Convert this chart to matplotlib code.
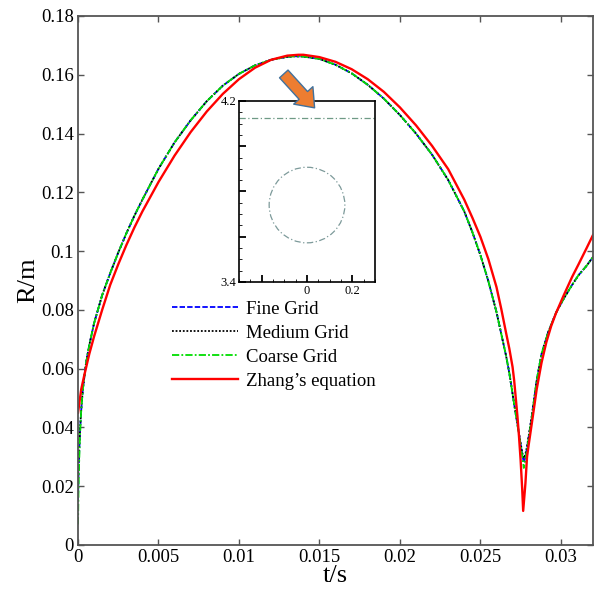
import numpy as np
import matplotlib
matplotlib.use('Agg')
import matplotlib.pyplot as plt
from matplotlib.patches import Circle, FancyArrowPatch
from matplotlib.ticker import FuncFormatter, MultipleLocator

plt.rcParams['font.family'] = ['Liberation Serif', 'DejaVu Serif']

# numerical bubble radius on three grids
t_num = [0, 0.00003, 0.00007, 0.00012, 0.0002, 0.0003, 0.0005, 0.0007,
         0.001, 0.0015, 0.002, 0.0025, 0.003, 0.0035, 0.004,
         0.005, 0.006, 0.007, 0.008, 0.009, 0.010, 0.011, 0.012, 0.013,
         0.0135, 0.014, 0.015, 0.016, 0.017, 0.018, 0.019, 0.020, 0.021,
         0.022, 0.023, 0.024, 0.0245, 0.025, 0.0255, 0.026, 0.0263, 0.0266,
         0.0268, 0.027, 0.0272, 0.0274, 0.0276, 0.0277, 0.0278, 0.0279,
         0.0282, 0.0285, 0.0288, 0.0292, 0.0297, 0.0302, 0.0307, 0.0311,
         0.0316, 0.032]
R_fine = [0.015, 0.024, 0.031, 0.038, 0.046, 0.053, 0.062, 0.068,
          0.0755, 0.0850, 0.0925, 0.0995, 0.1060, 0.1120, 0.1175,
          0.1280, 0.1370, 0.1445, 0.1510, 0.1563, 0.1603, 0.1632, 0.1651, 0.1661,
          0.1663, 0.1662, 0.1654, 0.1634, 0.1605, 0.1566, 0.1519, 0.1463, 0.1400,
          0.1328, 0.1242, 0.1135, 0.1065, 0.0987, 0.0897, 0.0793, 0.0718, 0.0643,
          0.0585, 0.0515, 0.0445, 0.0378, 0.0310, 0.0280, 0.0300, 0.0330,
          0.0440, 0.0560, 0.0650, 0.0722, 0.0790, 0.0840, 0.0885, 0.0918,
          0.0950, 0.0980]
R_medium = [0.022, 0.027, 0.033, 0.039, 0.046, 0.053, 0.062, 0.068,
            0.0755, 0.0850, 0.0925, 0.0995, 0.1060, 0.1120, 0.1175,
            0.1280, 0.1370, 0.1445, 0.1510, 0.1563, 0.1603, 0.1632, 0.1651, 0.1661,
            0.1663, 0.1662, 0.1654, 0.1634, 0.1605, 0.1566, 0.1519, 0.1463, 0.1400,
            0.1328, 0.1242, 0.1135, 0.1065, 0.0987, 0.0897, 0.0793, 0.0718, 0.0643,
            0.0585, 0.0515, 0.0445, 0.0380, 0.0315, 0.0295, 0.0310, 0.0335,
            0.0440, 0.0560, 0.0650, 0.0722, 0.0790, 0.0840, 0.0885, 0.0918,
            0.0950, 0.0980]
R_coarse = [0.007, 0.018, 0.028, 0.037, 0.046, 0.053, 0.062, 0.068,
            0.0755, 0.0850, 0.0925, 0.0995, 0.1060, 0.1120, 0.1175,
            0.1280, 0.1370, 0.1445, 0.1510, 0.1563, 0.1603, 0.1632, 0.1651, 0.1661,
            0.1663, 0.1662, 0.1654, 0.1634, 0.1605, 0.1566, 0.1519, 0.1463, 0.1400,
            0.1328, 0.1242, 0.1135, 0.1065, 0.0987, 0.0897, 0.0793, 0.0718, 0.0643,
            0.0585, 0.0515, 0.0445, 0.0375, 0.0302, 0.0262, 0.0290, 0.0325,
            0.0435, 0.0560, 0.0650, 0.0722, 0.0790, 0.0840, 0.0885, 0.0918,
            0.0950, 0.0980]

# Zhang's equation
t_zhang = [0, 0.0001, 0.0002, 0.0004, 0.0007, 0.001, 0.0015, 0.002, 0.0025,
           0.003, 0.0035, 0.004, 0.005, 0.006, 0.007, 0.008, 0.009, 0.010,
           0.011, 0.012, 0.013, 0.0137, 0.014, 0.015, 0.016, 0.017, 0.018,
           0.019, 0.020, 0.021, 0.022, 0.023, 0.024, 0.0245, 0.025, 0.0255,
           0.026, 0.0263, 0.0266, 0.0268, 0.027, 0.0271, 0.0272, 0.0273,
           0.0274, 0.0275, 0.0276, 0.02766, 0.0278, 0.0279, 0.028, 0.0282,
           0.0285, 0.0288, 0.0291, 0.0294, 0.0297, 0.0302, 0.0307, 0.0311,
           0.0316, 0.032]
R_zhang = [0.045, 0.049, 0.053, 0.058, 0.065, 0.071, 0.080, 0.0885, 0.0955,
           0.102, 0.108, 0.1135, 0.1235, 0.1325, 0.1405, 0.1475, 0.1535, 0.1585,
           0.1624, 0.1651, 0.1665, 0.1668, 0.1668, 0.1660, 0.1644, 0.1619, 0.1585,
           0.1542, 0.1489, 0.1428, 0.1358, 0.1279, 0.1175, 0.1114, 0.1049, 0.0972,
           0.0878, 0.0803, 0.0721, 0.0668, 0.0606, 0.056, 0.050, 0.044,
           0.037, 0.029, 0.019, 0.0116, 0.021, 0.030, 0.034, 0.0415,
           0.053, 0.062, 0.0690, 0.0745, 0.0789, 0.0852, 0.0912, 0.0955,
           0.1010, 0.1055]

# inset: bubble contour and free surface
surface_y = 4.125
bubble_center = (0.0, 3.74)
bubble_radius = 0.167

fig = plt.figure(figsize=(5.96, 5.94), dpi=100)
ax = fig.add_axes([0.1309, 0.0825, 0.8641, 0.8906])

ax.plot(t_num, R_fine, color='#0000ff', ls=(0, (3, 1.2)), lw=1.3, label='Fine Grid')
ax.plot(t_num, R_medium, color='black', ls=(0, (1, 1)), lw=1.3, label='Medium Grid')
ax.plot(t_num, R_coarse, color='#00dd00', ls=(0, (4, 1.2, 1, 1.2)), lw=1.3, label='Coarse Grid')
ax.plot(t_zhang, R_zhang, color='#ff0000', lw=1.7, label='Zhang\u2019s equation')

ax.set_xlim(0, 0.032)
ax.set_ylim(0, 0.18)
ax.xaxis.set_major_locator(MultipleLocator(0.005))
ax.yaxis.set_major_locator(MultipleLocator(0.02))
fmt = FuncFormatter(lambda v, p: '%g' % round(v, 6))
ax.xaxis.set_major_formatter(fmt)
ax.yaxis.set_major_formatter(fmt)
ax.tick_params(direction='in', length=4, width=1, color='#555555',
               top=True, right=True, labelsize=13.5, pad=3)
for s in ax.spines.values():
    s.set_color('#555555')
    s.set_linewidth(1.3)

ax.set_xlabel('t/s', fontsize=19, labelpad=-1)
ax.set_ylabel('R/m', fontsize=19, labelpad=1)

ax.legend(loc='upper left', bbox_to_anchor=(0.1825, 0.462), frameon=False,
          fontsize=13.5, handlelength=3.5, handletextpad=0.42,
          labelspacing=0.37, borderaxespad=0, borderpad=0)

# inset of the bubble shape
ins = fig.add_axes([0.401, 0.5253, 0.2282, 0.3047])
ins.axhline(surface_y, color='#6f9a86', ls=(0, (5, 2, 1, 2)), lw=0.9)
ins.add_patch(Circle(bubble_center, bubble_radius, fill=False,
                     ec='#7d9a9a', ls=(0, (5, 2, 1, 2)), lw=0.9))
ins.set_xlim(-0.3, 0.3)
ins.set_ylim(3.4, 4.2)
ins.set_xticks([-0.2, 0, 0.2])
ins.set_xticklabels(['', '0', '0.2'])
ins.set_yticks([3.4, 3.6, 3.8, 4.0, 4.2])
ins.set_yticklabels(['3.4', '', '', '', '4.2'])
ins.xaxis.set_minor_locator(MultipleLocator(0.05))
ins.yaxis.set_minor_locator(MultipleLocator(0.05))
ins.tick_params(which='major', direction='in', length=5, width=1.3, labelsize=9, pad=2)
ins.tick_params(which='minor', direction='in', length=2.5, width=0.6)
for s in ins.spines.values():
    s.set_color('black')
    s.set_linewidth(1.2)

arrow = FancyArrowPatch((0.473, 0.879), (0.531, 0.815), transform=fig.transFigure,
                        arrowstyle='simple,head_width=1.7,head_length=1.1,tail_width=0.75',
                        mutation_scale=11, fc='#ed7d31', ec='#41719c', lw=1)
fig.patches.append(arrow)

fig.savefig('out.png', dpi=100)
